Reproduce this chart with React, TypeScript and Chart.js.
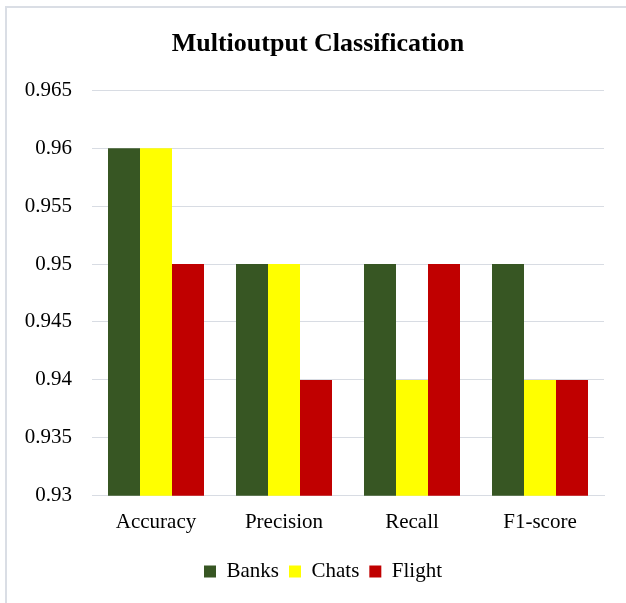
import React, { useEffect, useRef } from "react";
import { Chart, registerables } from "chart.js";

Chart.register(...registerables);

const categories = ["Accuracy", "Precision", "Recall", "F1-score"];
const banks = [0.96, 0.95, 0.95, 0.95];
const chats = [0.96, 0.95, 0.94, 0.94];
const flight = [0.95, 0.94, 0.95, 0.94];
const seriesNames = ["Banks", "Chats", "Flight"];
const seriesColors = ["#375623", "#FFFF00", "#C00000"];
const yMin = 0.93;
const yMax = 0.965;
const yStep = 0.005;

const FONT = "'Liberation Serif', 'Times New Roman', serif";

const frame = {
  id: "frame",
  afterLayout(chart: any) {
    if (chart.titleBlock) {
      chart.titleBlock.left += 6;
      chart.titleBlock.right += 6;
    }
    if (chart.legend) {
      chart.legend.left += 11;
      chart.legend.right += 11;
    }
  },
  beforeDraw(chart: any) {
    const { ctx, width, height } = chart;
    ctx.save();
    ctx.fillStyle = "#ffffff";
    ctx.fillRect(0, 0, width, height);
    ctx.strokeStyle = "#dadee5";
    ctx.lineWidth = 2;
    ctx.beginPath();
    ctx.moveTo(6, height);
    ctx.lineTo(6, 7);
    ctx.lineTo(width, 7);
    ctx.stroke();
    ctx.restore();
  },
};

export default function App() {
  const ref = useRef<HTMLCanvasElement>(null);
  useEffect(() => {
    if (!ref.current) return;
    const data = [banks, chats, flight];
    const chart = new Chart(ref.current, {
      type: "bar",
      data: {
        labels: categories,
        datasets: seriesNames.map((name, i) => ({
          label: name,
          data: data[i],
          backgroundColor: seriesColors[i],
          borderWidth: 0,
          categoryPercentage: 0.75,
          barPercentage: 1.0,
        })),
      },
      options: {
        responsive: false,
        animation: false,
        devicePixelRatio: 1,
        layout: { padding: { left: 20, right: 22, top: 0, bottom: 11 } },
        plugins: {
          title: {
            display: true,
            text: "Multioutput Classification",
            color: "#000",
            font: { family: FONT, size: 26, weight: "bold" },
            padding: { top: 29, bottom: 30 },
          },
          legend: {
            position: "bottom",
            labels: {
              color: "#000",
              font: { family: FONT, size: 21 },
              boxWidth: 12,
              boxHeight: 12,
              padding: 10,
            },
          },
          tooltip: { enabled: false },
        },
        scales: {
          x: {
            grid: { display: false, drawTicks: false },
            border: { display: true, color: "#d8dce3", width: 1 },
            afterFit: (s: any) => {
              s.height += 2;
            },
            ticks: { color: "#000", font: { family: FONT, size: 21 }, padding: 14 },
          },
          y: {
            min: yMin,
            max: yMax,
            grid: { color: "#d8dce3", drawTicks: false, lineWidth: 1 },
            border: { display: false },
            afterFit: (s: any) => {
              s.width = 72;
            },
            ticks: {
              stepSize: yStep,
              color: "#000",
              font: { family: FONT, size: 21 },
              padding: 20,
              callback: (v: any) => String(Number(Number(v).toFixed(3))),
            },
          },
        },
      },
      plugins: [frame],
    });
    return () => chart.destroy();
  }, []);
  return (
    <div style={{ position: "fixed", left: 0, top: 0, width: 626, height: 603 }}>
      <canvas ref={ref} width={626} height={603} style={{ width: 626, height: 603 }} />
    </div>
  );
}
